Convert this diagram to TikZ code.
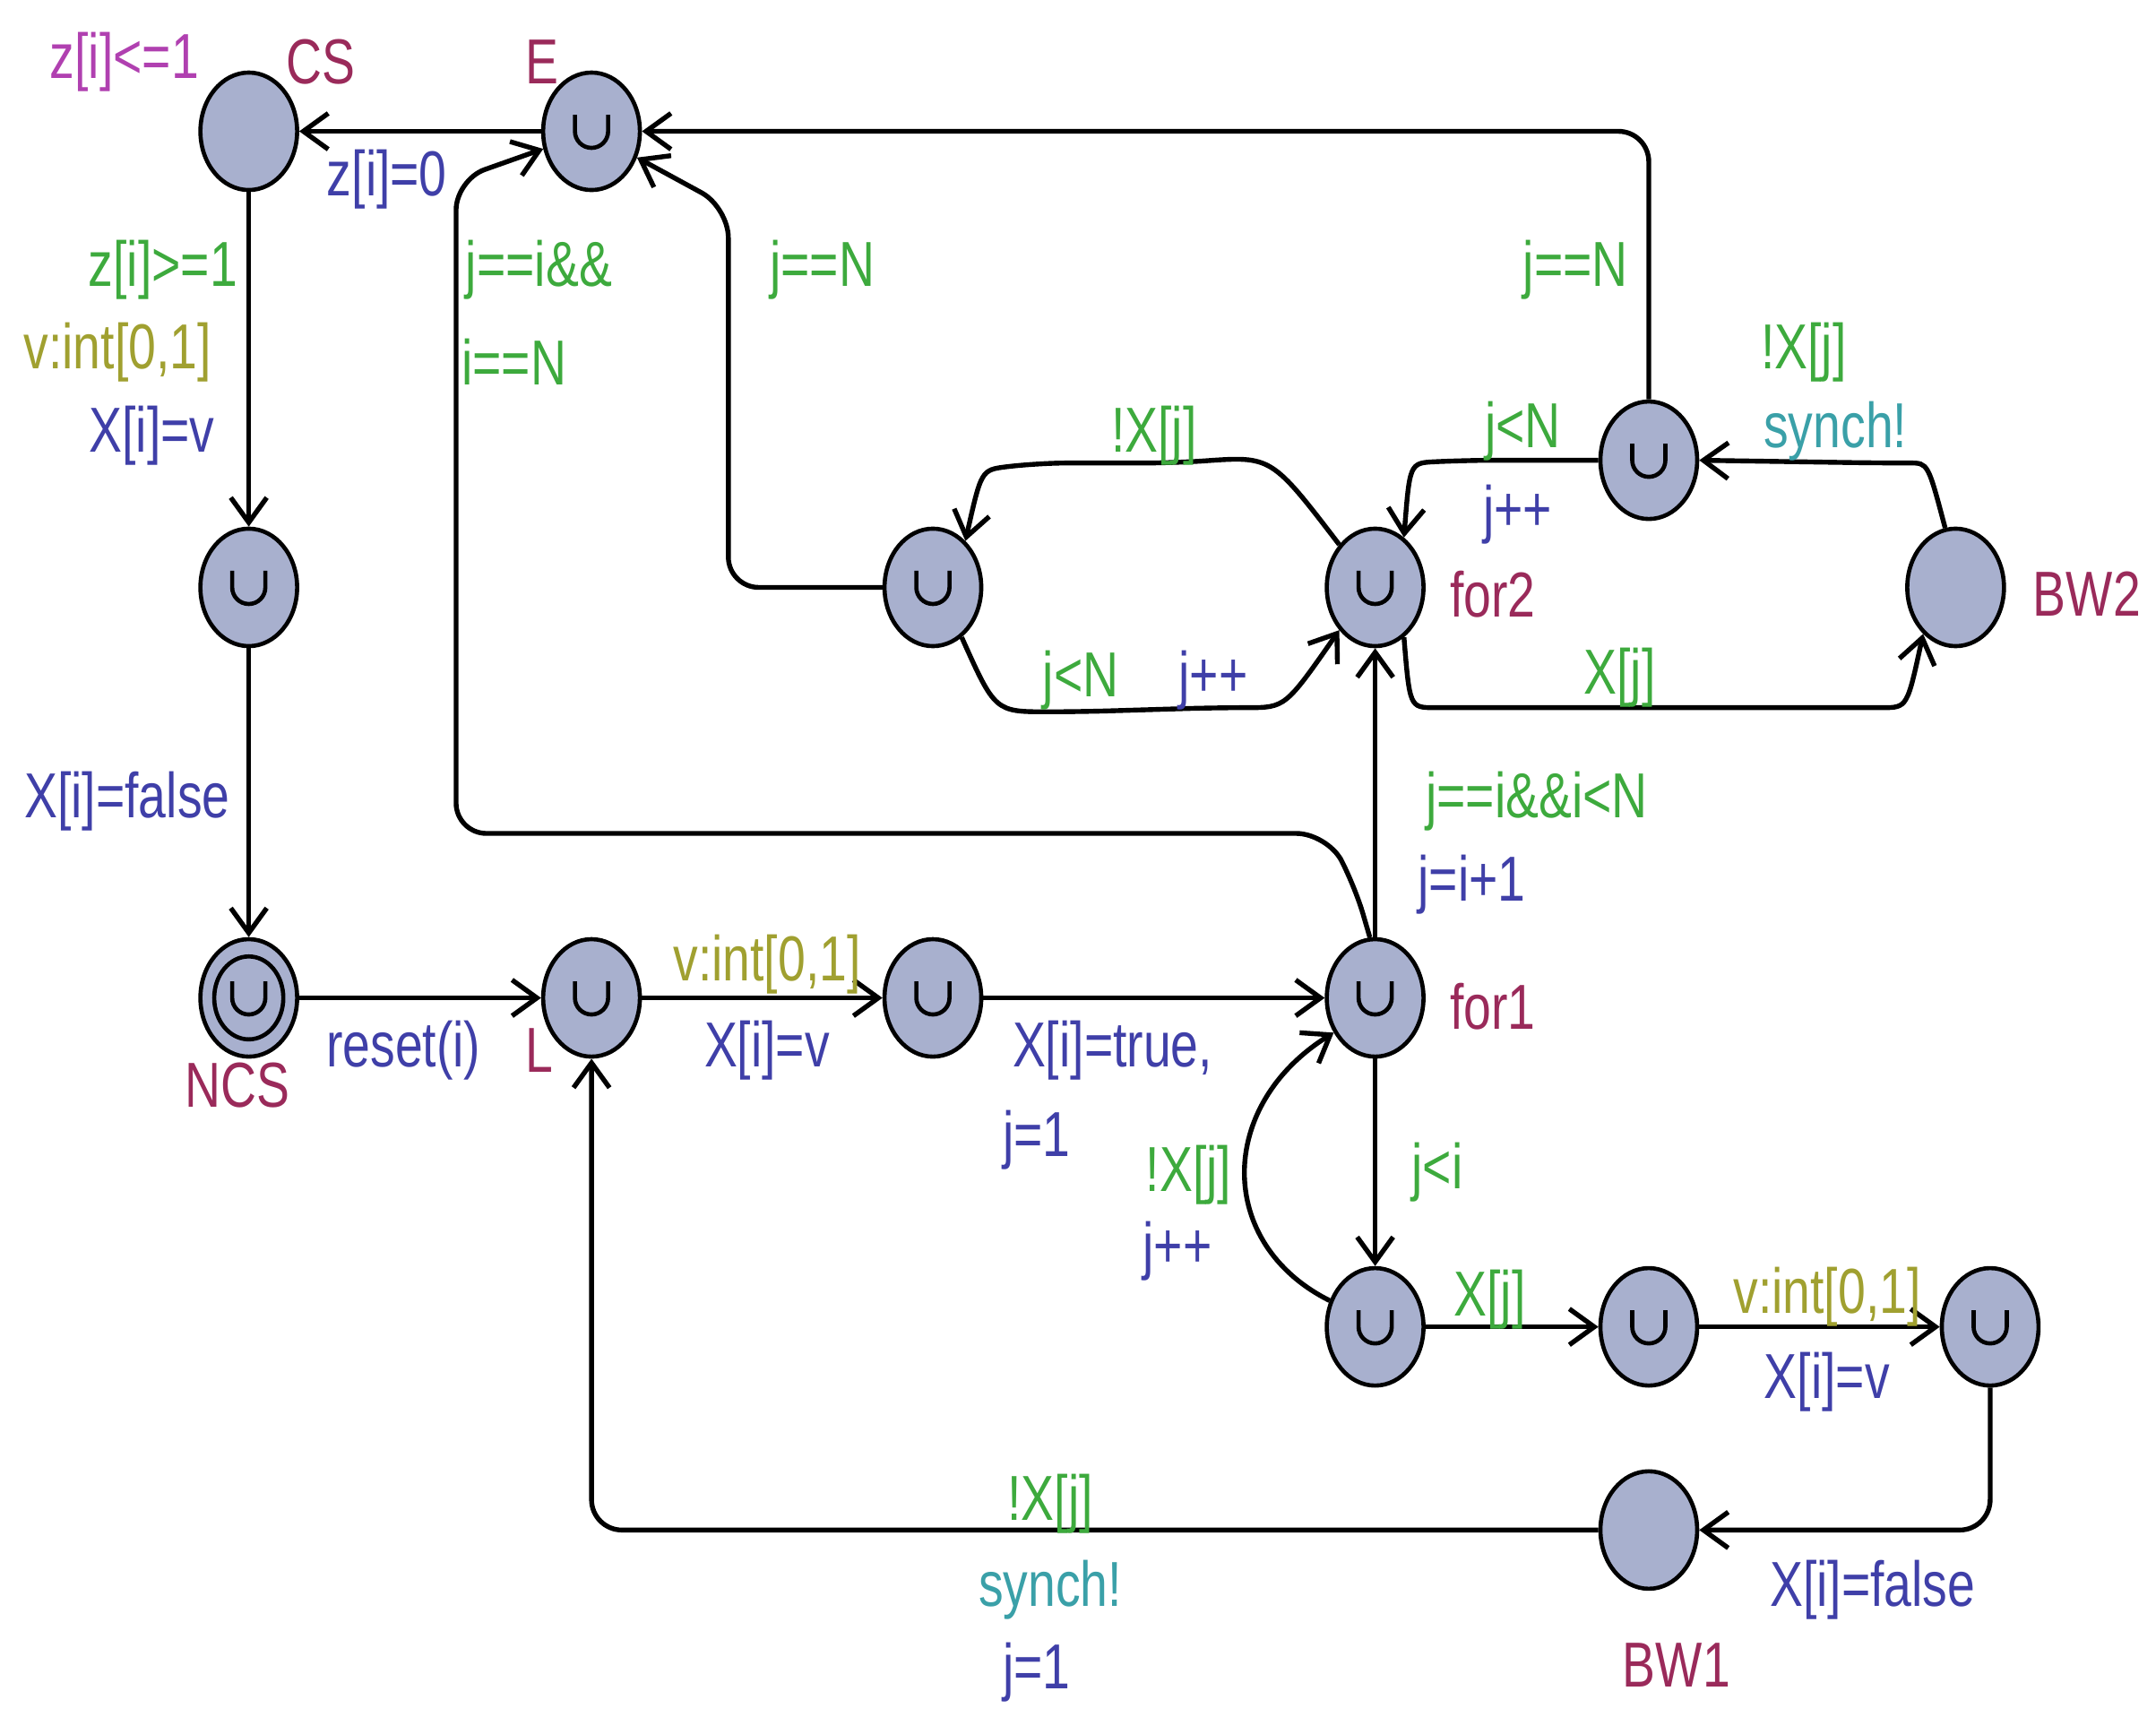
\documentclass[tikz,border=0pt]{standalone}
\usepackage{fontspec}
\setmainfont{Liberation Sans}[FakeStretch=0.78]
\usetikzlibrary{arrows.meta,shapes.geometric}
\definecolor{nf}{HTML}{A8B0CE}
\definecolor{gd}{HTML}{3DAA3D}
\definecolor{up}{HTML}{3F3FA8}
\definecolor{sel}{HTML}{A0A030}
\definecolor{syn}{HTML}{3AA0A8}
\definecolor{nm}{HTML}{9A2A5A}
\definecolor{inv}{HTML}{B040B0}
\tikzset{
 loc/.style={ellipse,draw,line width=3pt,fill=nf,minimum width=70pt,minimum height=85pt,inner sep=0pt},
 e/.style={line width=3.5pt,-{Straight Barb[length=18pt,width=26pt,line width=3.5pt]},rounded corners=22pt},
 lt/.style={font=\fontsize{46}{50}\selectfont,inner sep=0pt},
 lg/.style={lt,text=gd}, lu/.style={lt,text=up}, ls/.style={lt,text=sel}, ly/.style={lt,text=syn}, ln/.style={lt,text=nm}
}
\newcommand{\cupmark}[1]{\draw[line width=3pt] ([xshift=-12pt,yshift=12pt]#1.center) -- ([xshift=-12pt,yshift=0pt]#1.center) arc[start angle=180,end angle=360,radius=12pt] -- ([xshift=12pt,yshift=12pt]#1.center);}
\begin{document}
\begin{tikzpicture}[x=1pt,y=-1pt]
\useasboundingbox (0,0) rectangle (1560,1242);
\node[loc] (CS) at (180,95) {};
\node[loc] (E) at (428,95) {};
\node[loc] (A) at (180,425) {};
\node[loc] (NCS) at (180,722) {};
\node[loc] (L) at (428,722) {};
\node[loc] (B) at (675,722) {};
\node[loc] (F1) at (995,722) {};
\node[loc] (F2) at (995,425) {};
\node[loc] (C) at (675,425) {};
\node[loc] (D) at (1193,333) {};
\node[loc] (BW2) at (1415,425) {};
\node[loc] (G) at (995,960) {};
\node[loc] (H) at (1193,960) {};
\node[loc] (K) at (1440,960) {};
\node[loc] (BW1) at (1193,1107) {};
\foreach \q in {E,A,L,B,F1,F2,C,D,G,H,K,NCS}{\cupmark{\q}}
\draw[line width=3pt] (NCS.center) circle[x radius=25pt,y radius=30pt];
% edges
\draw[e] (E) -- (CS);
\draw[e] (CS) -- (A);
\draw[e] (A) -- (NCS);
\draw[e] (NCS) -- (L);
\draw[e] (L) -- (B);
\draw[e] (B) -- (F1);
\draw[e] (F1) -- (F2);
\draw[e] (F1) -- (G);
\draw[e] (G) -- (H);
\draw[e] (H) -- (K);
\draw[e] (F1.95) -- (980,640) -- (960,603) -- (330,603) -- (330,130) -- (E.200);
\draw[e] (G.150) .. controls (880,900) and (880,800) .. (F1.220);
\draw[e] (K.south) -- (1440,1107) -- (BW1);
\draw[e] (BW1) -- (428,1107) -- (L.south);
\draw[e] (F2.130) .. controls (920,330) .. (850,335) -- (750,335) .. controls (710,340) .. (C.55);
\draw[e] (C.300) .. controls (720,515) .. (780,515) -- (880,512) .. controls (930,512) .. (F2.230);
\draw[e] (C.west) -- (527,425) -- (527,150) -- (E.330);
\draw[e] (D.west) -- (1060,333) .. controls (1020,335) .. (F2.60);
\draw[e] (D.north) -- (1193,95) -- (E.east);
\draw[e] (BW2.100) .. controls (1395,335) .. (1360,335) -- (D.east);
\draw[e] (F2.300) .. controls (1020,512) .. (1060,512) -- (1340,512) .. controls (1380,512) .. (BW2.235);
% labels
\node[lt,text=inv] at (90,45) {z[i]<=1};
\node[ln] at (232,45) {CS};
\node[ln] at (392,45) {E};
\node[ln] at (172,785) {NCS};
\node[ln] at (390,760) {L};
\node[ln] at (1080,728) {for1};
\node[ln] at (1080,430) {for2};
\node[ln] at (1510,430) {BW2};
\node[ln] at (1213,1205) {BW1};
\node[lu] at (280,130) {z[i]=0};
\node[lg] at (118,195) {z[i]>=1};
\node[ls] at (85,255) {v:int[0,1]};
\node[lu] at (110,315) {X[i]=v};
\node[lu] at (92,580) {X[i]=false};
\node[lu] at (292,760) {reset(i)};
\node[ls] at (555,698) {v:int[0,1]};
\node[lu] at (555,760) {X[i]=v};
\node[lu] at (805,760) {X[i]=true,};
\node[lu] at (750,825) {j=1};
\node[lg] at (1112,580) {j==i\&\&i<N};
\node[lu] at (1065,640) {j=i+1};
\node[lg] at (390,195) {j==i\&\&};
\node[lg] at (372,262) {i==N};
\node[lg] at (1040,848) {j<i};
\node[lg] at (860,850) {!X[j]};
\node[lu] at (852,905) {j++};
\node[lg] at (1078,940) {X[j]};
\node[ls] at (1322,938) {v:int[0,1]};
\node[lu] at (1322,1000) {X[i]=v};
\node[lu] at (1355,1150) {X[i]=false};
\node[lg] at (760,1088) {!X[j]};
\node[ly] at (760,1150) {synch!};
\node[lu] at (750,1210) {j=1};
\node[lg] at (835,315) {!X[j]};
\node[lg] at (782,492) {j<N};
\node[lu] at (878,492) {j++};
\node[lg] at (595,195) {j==N};
\node[lg] at (1102,312) {j<N};
\node[lu] at (1098,372) {j++};
\node[lg] at (1140,195) {j==N};
\node[lg] at (1305,255) {!X[j]};
\node[ly] at (1328,312) {synch!};
\node[lg] at (1172,490) {X[j]};
\end{tikzpicture}
\end{document}
